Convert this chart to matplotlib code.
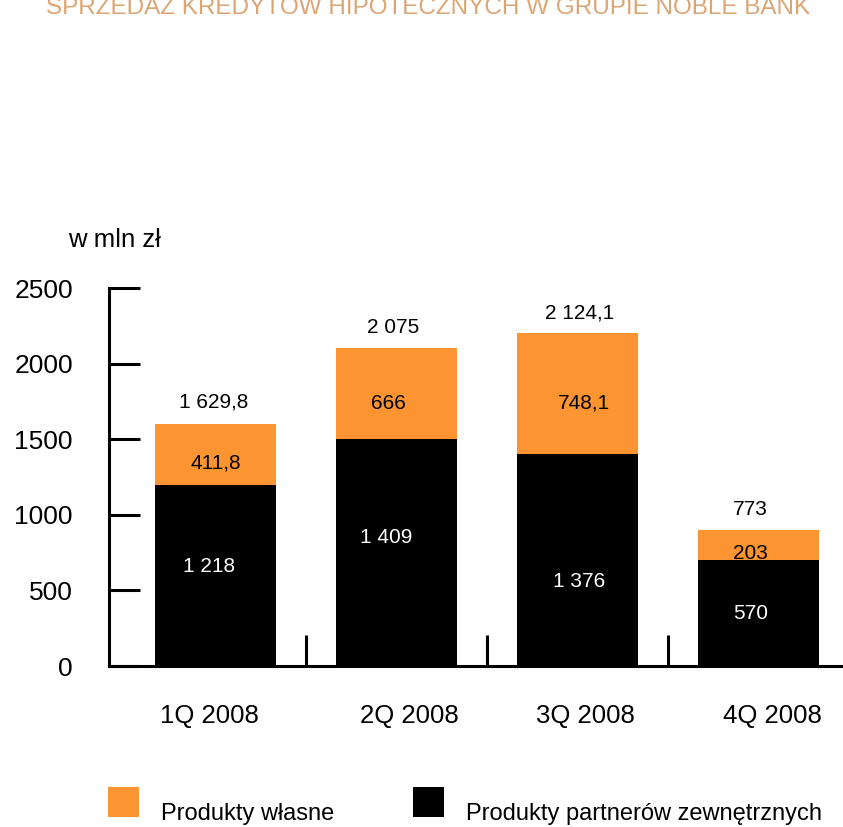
import matplotlib.pyplot as plt
from matplotlib.ticker import FixedLocator
from matplotlib.patches import Rectangle
from matplotlib.container import BarContainer
from matplotlib.legend_handler import HandlerPatch, update_from_first_child
from matplotlib.transforms import ScaledTranslation

plt.rcParams['font.family'] = ['Liberation Sans', 'DejaVu Sans']

# dane
kwartaly = ['1Q 2008', '2Q 2008', '3Q 2008', '4Q 2008']
partnerzy = [1200, 1500, 1400, 700]      # wysokosc czarnych slupkow (z rysunku)
wlasne = [400, 600, 800, 200]            # wysokosc pomaranczowych slupkow
etykiety_partnerzy = ['1 218', '1 409', '1 376', '570']
etykiety_wlasne = ['411,8', '666', '748,1', '203']
etykiety_suma = ['1 629,8', '2 075', '2 124,1', '773']

# polozenie etykiet (y w jednostkach osi, dx w pikselach)
y_partnerzy = [655, 853, 556, 350]
y_wlasne = [1343, 1739, 1739, 747]
y_suma = [1746, 2242, 2335, 1038]
dx_partnerzy = [-6, -10, 2, -8]
dx_wlasne = [0, -8, 6, -8]
dx_suma = [-2, -3, 2, -8]
dx_kwartaly = [-6, 13, 8, 14]

POMARANCZ = '#FD9432'

fig = plt.figure(figsize=(8.43, 8.27), dpi=100)
ax = fig.add_axes([109 / 843, 1 - 666 / 827, 1 - 109 / 843, (666 - 288) / 827])

x = list(range(len(kwartaly)))
szer = 121 / 181
b1 = ax.bar(x, partnerzy, width=szer, color='black', label='Produkty partnerów zewnętrznych')
b2 = ax.bar(x, wlasne, width=szer, bottom=partnerzy, color=POMARANCZ, label='Produkty własne')

px = 1 / 181
for i in x:
    ax.text(i + dx_partnerzy[i] * px, y_partnerzy[i], etykiety_partnerzy[i],
            ha='center', va='center', color='white', fontsize=15)
    ax.text(i + dx_wlasne[i] * px, y_wlasne[i], etykiety_wlasne[i],
            ha='center', va='center', color='black', fontsize=15)
    ax.text(i + dx_suma[i] * px, y_suma[i], etykiety_suma[i],
            ha='center', va='center', color='black', fontsize=15)

ax.set_xlim(-0.588, 3.467)
ax.set_ylim(0, 2500)
ax.set_yticks([0, 500, 1000, 1500, 2000, 2500])
ax.set_xticks(x)
ax.set_xticklabels(kwartaly)
ax.xaxis.set_minor_locator(FixedLocator([0.5, 1.5, 2.5]))

for s in ['top', 'right']:
    ax.spines[s].set_visible(False)
for s in ['left', 'bottom']:
    ax.spines[s].set_linewidth(2.2)

ax.tick_params(axis='y', direction='in', length=22, width=2.2, pad=26, labelsize=19)
ax.tick_params(axis='x', which='major', length=0, pad=27, labelsize=18.5)
ax.tick_params(axis='x', which='minor', direction='in', length=22, width=2.2)

for lab, d in zip(ax.get_xticklabels(), dx_kwartaly):
    lab.set_transform(lab.get_transform() + ScaledTranslation(d / 100, 0, fig.dpi_scale_trans))

fig.text(68 / 843, 1 - 240 / 827, 'w mln zł', fontsize=18.5, va='center', ha='left')
fig.text(428 / 843, 1 - 14 / 827, 'SPRZEDAŻ KREDYTÓW HIPOTECZNYCH W GRUPIE NOBLE BANK',
         fontsize=17.5, color='#DCA574', ha='center', va='baseline')


# kwadrat legendy troche wyzej niz tekst
def kwadrat(legend, orig_handle, xdescent, ydescent, width, height, fontsize):
    return Rectangle((-xdescent, -ydescent + 7), width, height)


fig.legend(handles=[b2, b1], loc='center left', bbox_to_anchor=(108 / 843, 1 - 812 / 827),
           ncol=2, frameon=False, fontsize=17, handlelength=1.3, handleheight=1.55,
           handletextpad=0.93, columnspacing=3.35, borderpad=0, borderaxespad=0,
           handler_map={BarContainer: HandlerPatch(patch_func=kwadrat,
                                                   update_func=update_from_first_child)})

fig.savefig('out.png', dpi=100)
